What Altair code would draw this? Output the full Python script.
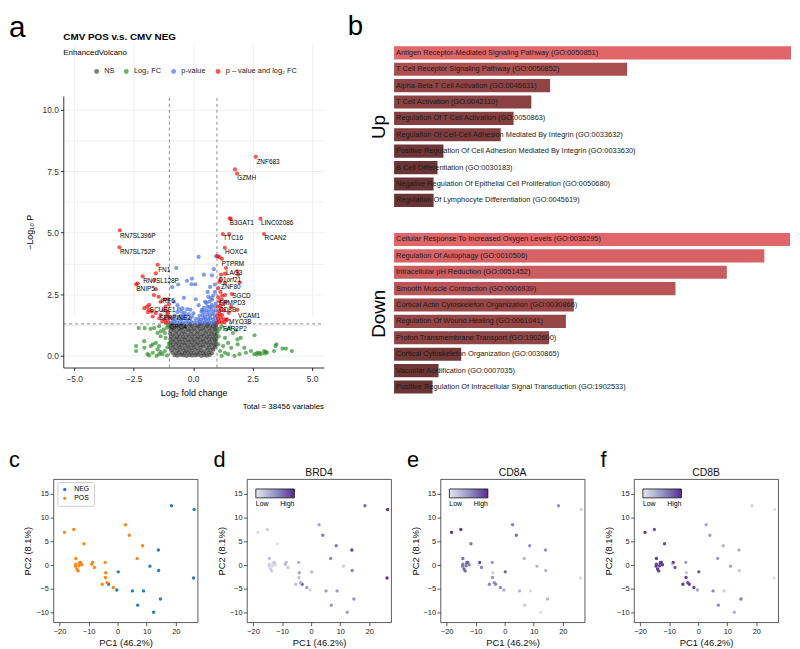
import altair as alt
import pandas as pd

FONT = "Liberation Sans"

# ---------------- panel a : volcano ----------------
ns_pts = [
    (-0.78, 0.03), (-0.66, 0.01), (-0.53, 0.04), (-0.41, 0.02), (-0.28, 0.0), (-0.16, 0.03), (-0.04, 0.01), (0.09, 0.02), (0.21, 0.04), (0.34, 0.0), (0.46, 0.03), (0.58, 0.01), (0.7, 0.04),
    (-0.87, 0.13), (-0.73, 0.11), (-0.6, 0.14), (-0.47, 0.1), (-0.35, 0.12), (-0.22, 0.15), (-0.1, 0.11), (0.03, 0.13), (0.15, 0.1), (0.28, 0.14), (0.4, 0.12), (0.53, 0.1), (0.66, 0.13), (0.79, 0.11),
    (-0.92, 0.22), (-0.79, 0.25), (-0.66, 0.21), (-0.54, 0.24), (-0.41, 0.22), (-0.29, 0.2), (-0.16, 0.24), (-0.04, 0.22), (0.09, 0.25), (0.21, 0.21), (0.34, 0.23), (0.47, 0.2), (0.6, 0.24), (0.72, 0.22), (0.85, 0.25),
    (-0.96, 0.33), (-0.83, 0.36), (-0.7, 0.32), (-0.58, 0.35), (-0.45, 0.34), (-0.33, 0.31), (-0.2, 0.35), (-0.07, 0.33), (0.05, 0.36), (0.18, 0.32), (0.31, 0.34), (0.43, 0.37), (0.56, 0.33), (0.68, 0.35), (0.81, 0.32), (0.93, 0.36),
    (-0.97, 0.46), (-0.85, 0.44), (-0.72, 0.47), (-0.6, 0.43), (-0.48, 0.46), (-0.35, 0.45), (-0.23, 0.42), (-0.1, 0.46), (0.02, 0.44), (0.15, 0.47), (0.27, 0.43), (0.4, 0.45), (0.52, 0.48), (0.65, 0.44), (0.77, 0.46), (0.9, 0.43), (0.97, 0.47),
    (-0.95, 0.55), (-0.82, 0.58), (-0.69, 0.54), (-0.57, 0.57), (-0.44, 0.56), (-0.32, 0.53), (-0.19, 0.57), (-0.06, 0.55), (0.07, 0.58), (0.19, 0.54), (0.32, 0.56), (0.44, 0.59), (0.57, 0.55), (0.69, 0.57), (0.82, 0.54), (0.94, 0.58),
    (-0.96, 0.68), (-0.84, 0.66), (-0.71, 0.69), (-0.59, 0.65), (-0.46, 0.68), (-0.34, 0.67), (-0.21, 0.64), (-0.08, 0.68), (0.04, 0.66), (0.17, 0.69), (0.29, 0.65), (0.42, 0.67), (0.54, 0.7), (0.67, 0.66), (0.79, 0.68), (0.91, 0.65), (0.98, 0.69),
    (-0.94, 0.77), (-0.81, 0.8), (-0.68, 0.76), (-0.56, 0.79), (-0.43, 0.78), (-0.31, 0.75), (-0.18, 0.79), (-0.05, 0.77), (0.08, 0.8), (0.2, 0.76), (0.33, 0.78), (0.45, 0.81), (0.58, 0.77), (0.7, 0.79), (0.83, 0.76), (0.95, 0.8),
    (-0.97, 0.9), (-0.85, 0.88), (-0.72, 0.91), (-0.6, 0.87), (-0.47, 0.9), (-0.35, 0.89), (-0.22, 0.86), (-0.09, 0.9), (0.03, 0.88), (0.16, 0.91), (0.28, 0.87), (0.41, 0.89), (0.53, 0.92), (0.66, 0.88), (0.78, 0.9), (0.9, 0.87), (0.98, 0.91),
    (-0.95, 1.0), (-0.82, 1.03), (-0.7, 0.99), (-0.57, 1.02), (-0.45, 1.01), (-0.32, 0.98), (-0.19, 1.02), (-0.07, 1.0), (0.06, 1.03), (0.19, 0.99), (0.31, 1.01), (0.44, 1.04), (0.56, 1.0), (0.69, 1.02), (0.81, 0.99), (0.94, 1.03),
    (-0.96, 1.13), (-0.84, 1.11), (-0.71, 1.14), (-0.59, 1.1), (-0.46, 1.13), (-0.34, 1.12), (-0.21, 1.09), (-0.08, 1.13), (0.04, 1.11), (0.17, 1.14), (0.29, 1.1), (0.42, 1.12), (0.54, 1.15), (0.67, 1.11), (0.79, 1.13), (0.91, 1.1), (0.98, 1.14),
    (-0.94, 1.22), (-0.81, 1.25), (-0.68, 1.21), (-0.56, 1.24), (-0.43, 1.23), (-0.31, 1.2), (-0.18, 1.24), (-0.05, 1.22), (0.08, 1.25), (0.2, 1.21), (0.33, 1.23), (0.45, 1.26), (0.58, 1.22), (0.7, 1.24), (0.83, 1.21), (0.95, 1.25),
    (-0.88, 1.29), (-0.5, 1.28), (-0.12, 1.29), (0.27, 1.28), (0.62, 1.29), (0.9, 1.28),
]
fc_pts = [
    (-2.29, 1.13), (-2.04, 1.13), (-1.79, 1.10), (-1.43, 1.20), (-1.24, 1.07), (-1.19, 0.93), (-1.37, 0.80), (-1.16, 0.73),
    (-1.57, 0.53), (-1.70, 0.47), (-1.43, 0.40), (-2.40, 0.20), (-1.92, 0.07), (-1.70, 0.13), (-1.43, 0.07), (-2.06, 0.60),
    (-2.05, 0.33), (-1.19, 0.20), (-1.10, 0.02), (-1.29, 0.07), (-1.54, 0.0), (-1.85, 0.02), (-1.64, 1.13), (-1.50, 0.93),
    (-1.36, 1.0), (-1.78, 0.40), (-1.5, 0.27), (-1.37, 0.17), (-2.4, 0.4), (-1.05, 1.25), (-1.1, 1.15), (-1.02, 0.5), (-1.08, 0.35),
    (1.2, 1.2), (1.4, 1.07), (1.67, 0.93), (2.0, 0.73), (1.07, 0.8), (1.34, 0.73), (1.47, 0.53), (1.26, 0.4), (1.6, 0.33),
    (1.87, 0.47), (2.15, 0.33), (2.43, 0.2), (2.7, 0.13), (2.98, 0.2), (3.4, 0.2), (3.46, 0.4), (3.5, 0.47), (3.76, 0.3),
    (3.9, 0.3), (4.15, 0.2), (3.1, 0.13), (2.84, 0.07), (2.57, 0.07), (2.22, 0.13), (1.95, 0.07), (1.74, 0.0), (1.47, 0.07),
    (1.2, 0.0), (1.13, 0.2), (1.34, 0.13), (1.06, 0.47), (1.86, 0.67), (2.58, 0.84), (2.68, 0.06), (2.8, 0.13), (3.06, 0.17),
    (3.0, 0.1), (1.03, 1.0), (1.12, 1.1), (1.55, 1.15), (1.8, 1.05),
]
p_pts = [
    (0.23, 4.02), (0.96, 4.05), (-0.71, 3.57), (0.87, 3.52), (0.45, 3.3), (0.79, 3.27), (-0.05, 3.14), (-0.26, 3.05),
    (0.09, 2.91), (-0.07, 2.91), (-0.88, 2.79), (-0.63, 2.9), (-0.39, 2.36), (0.11, 2.3), (0.61, 2.6), (0.71, 2.8),
    (0.91, 2.9), (-0.8, 2.2), (-0.66, 2.06), (-0.45, 1.93), (0.23, 2.06), (0.5, 2.2), (0.64, 2.4), (-0.12, 1.87),
    (0.01, 1.73), (0.37, 1.87), (0.78, 2.06), (0.85, 1.8),
    (0.18, 1.35), (0.28, 1.38), (0.38, 1.34), (0.48, 1.36), (0.58, 1.33), (0.68, 1.37), (0.78, 1.34), (0.88, 1.36), (0.96, 1.4),
    (0.22, 1.5), (0.33, 1.48), (0.43, 1.52), (0.53, 1.47), (0.63, 1.5), (0.73, 1.53), (0.83, 1.49), (0.93, 1.55),
    (0.27, 1.63), (0.4, 1.66), (0.5, 1.6), (0.6, 1.68), (0.7, 1.64), (0.8, 1.7), (0.9, 1.66),
    (0.35, 1.8), (0.47, 1.78), (0.57, 1.84), (0.67, 1.8), (0.76, 1.9), (0.95, 1.85),
    (0.45, 1.95), (0.6, 2.0), (0.7, 1.98), (0.88, 2.0), (0.55, 2.15), (0.68, 2.2), (0.8, 2.28), (0.95, 2.12),
    (0.85, 2.45), (0.75, 2.35), (0.92, 2.6),
    (-0.92, 1.35), (-0.8, 1.38), (-0.68, 1.34), (-0.56, 1.37), (-0.44, 1.33), (-0.32, 1.36), (-0.2, 1.34), (-0.08, 1.38), (0.05, 1.35),
    (-0.86, 1.5), (-0.73, 1.47), (-0.6, 1.52), (-0.48, 1.49), (-0.36, 1.53), (-0.24, 1.48), (-0.12, 1.52), (0.1, 1.5),
    (-0.78, 1.64), (-0.55, 1.62), (-0.42, 1.67), (-0.3, 1.63), (-0.18, 1.7), (-0.05, 1.6),
    (-0.66, 1.78), (-0.5, 1.8), (-0.35, 1.76), (-0.6, 1.92), (-0.25, 1.9), (-0.95, 1.55),
]
sig_pts = [
    (2.63, 8.08), (1.76, 7.57), (1.85, 7.40), (1.54, 5.58), (1.58, 5.56), (2.83, 5.57), (1.25, 4.95), (1.51, 4.95),
    (2.98, 4.95), (-3.08, 5.10), (-3.10, 4.41), (1.33, 4.39), (1.03, 4.05), (1.11, 4.01), (1.21, 3.94), (1.38, 3.57),
    (1.86, 3.43), (1.34, 3.34), (1.17, 3.30), (1.9, 3.3), (1.17, 3.1), (1.11, 3.0), (1.34, 2.96), (1.96, 2.98),
    (1.63, 2.51), (1.34, 2.47), (1.22, 2.45),
    (1.02, 1.35), (1.1, 1.4), (1.2, 1.36), (1.32, 1.38), (1.05, 1.5), (1.15, 1.55), (1.28, 1.5), (1.4, 1.47),
    (1.03, 1.65), (1.12, 1.7), (1.22, 1.66), (1.08, 1.82), (1.18, 1.9), (1.3, 1.85), (1.04, 2.0), (1.15, 2.05),
    (1.27, 2.1), (1.1, 2.22), (1.2, 2.3), (1.38, 2.2), (1.05, 2.38), (1.86, 1.87), (1.42, 1.47), (1.5, 1.75),
    (1.6, 2.0), (1.15, 2.6), (1.05, 2.75),
    (-1.49, 3.70), (-1.57, 3.35), (-2.12, 3.23), (-1.64, 3.07), (-2.40, 2.91), (-1.57, 2.71), (-1.65, 2.47),
    (-1.45, 2.40), (-1.2, 2.3), (-1.37, 2.2), (-1.94, 2.0), (-1.85, 1.87), (-1.75, 1.80), (-1.9, 1.78), (-1.57, 1.74),
    (-1.37, 1.66), (-1.16, 2.0), (-1.1, 1.8), (-1.7, 1.6), (-1.43, 1.53), (-1.19, 1.47), (-1.12, 1.6), (-1.05, 1.38),
    (-1.15, 1.35), (-1.3, 1.4), (-1.02, 1.55), (-1.08, 1.7), (-1.25, 1.85), (-1.02, 2.1), (-1.05, 2.3), (-2.05, 1.94),
    (-2.33, 2.94), (-1.85, 2.07),
]
gene_names = ["ZNF683", "GZMH", "B3GAT1", "LINC02086", "TTC16", "RCAN2", "RN7SL396P", "RN7SL752P", "HOXC4",
              "PTPRM", "LAG3", "C1orf21", "ZNF80", "SGCD", "FRMPD3", "CD8B", "VCAM1", "MYO3B", "FAR2P2",
              "FN1", "RN7SL128P", "BNIP5", "IRF6", "SCUBE1", "SERPINE1", "GPC4"]
gene_x = [2.66, 1.85, 1.54, 2.85, 1.27, 3.0, -3.08, -3.08, 1.34,
          1.2, 1.38, 1.06, 1.17, 1.64, 1.09, 1.09, 1.89, 1.51, 1.25,
          -1.47, -2.1, -2.39, -1.36, -1.82, -1.43, -1.0]
gene_y = [7.88, 7.21, 5.41, 5.38, 4.77, 4.77, 4.87, 4.21, 4.21,
          3.73, 3.35, 3.07, 2.79, 2.45, 2.15, 1.86, 1.64, 1.37, 1.09,
          3.50, 3.03, 2.71, 2.22, 1.87, 1.53, 1.19]
v_cut = [-1.0, 1.0]
h_cut = [1.30103]
CATS = ["NS", "Log₂ FC", "p-value", "p – value and log₂ FC"]
CAT_COLORS = ["#3a3a3a", "#228b22", "#4169e1", "#ee0000"]

# ---------------- panel b : enrichment bars ----------------
up_terms = [
    "Antigen Receptor-Mediated Signaling Pathway (GO:0050851)",
    "T Cell Receptor Signaling Pathway (GO:0050852)",
    "Alpha-Beta T Cell Activation (GO:0046631)",
    "T Cell Activation (GO:0042110)",
    "Regulation Of T Cell Activation (GO:0050863)",
    "Regulation Of Cell-Cell Adhesion Mediated By Integrin (GO:0033632)",
    "Positive Regulation Of Cell Adhesion Mediated By Integrin (GO:0033630)",
    "B Cell Differentiation (GO:0030183)",
    "Negative Regulation Of Epithelial Cell Proliferation (GO:0050680)",
    "Regulation Of Lymphocyte Differentiation (GO:0045619)",
]
up_vals = [402, 236, 158, 139, 121, 108, 50, 44, 40, 40]
down_terms = [
    "Cellular Response To Increased Oxygen Levels (GO:0036295)",
    "Regulation Of Autophagy (GO:0010506)",
    "Intracellular pH Reduction (GO:0051452)",
    "Smooth Muscle Contraction (GO:0006939)",
    "Cortical Actin Cytoskeleton Organization (GO:0030866)",
    "Regulation Of Wound Healing (GO:0061041)",
    "Proton Transmembrane Transport (GO:1902600)",
    "Cortical Cytoskeleton Organization (GO:0030865)",
    "Vacuolar Acidification (GO:0007035)",
    "Positive Regulation Of Intracellular Signal Transduction (GO:1902533)",
]
down_vals = [401, 375, 337, 285, 182, 174, 157, 68, 45, 39]

# ---------------- panels c-f : PCA ----------------
pc1 = [18.5, 26.3, 14.0, 11.1, 14.1, 0.2, 26.1, -3.1, -0.3, 5.1, 8.9, 14.7, 6.9, 12.4,
       -18.3, -15.1, -11.6, 2.7, 4.0, 8.6, 6.7,
       -14.4, -14.4, -13.1, -12.7, -13.3, -14.0, -13.6, -12.3, -14.5,
       -8.9, -8.6, -8.0, -4.3, -4.1, -4.2, -3.6, -5.3, -1.5]
pc2 = [12.5, 11.7, 3.2, -0.2, -1.1, -1.4, -2.7, -4.0, -5.2, -5.4, -5.4, -7.1, -8.4, -9.9,
       6.9, 7.5, 4.5, 8.5, 6.3, 4.1, 1.4,
       1.4, 0.2, 0.5, 0.6, -0.1, -0.8, -1.2, 0.1, -0.2,
       0.2, 0.6, -0.5, 0.6, -1.6, -2.6, -3.7, -4.0, -4.7]
group = ["NEG"] * 14 + ["POS"] * 25
brd4 = [0.7, 0.95, 0.9, 0.15, 0.6, 0.3, 0.95, 0.75, 0.1, 0.45, 0.45, 0.5, 0.5, 0.45,
        0.08, 0.15, 0.03, 0.4, 0.65, 0.65, 0.55,
        0.25, 0.15, 0.1, 0.2, 0.1, 0.15, 0.15, 0.1, 0.1,
        0.3, 0.3, 0.2, 0.35, 0.4, 0.25, 0.35, 0.25, 0.45]
cd8a = [0.5, 0.12, 0.5, 0.3, 0.3, 0.75, 0.08, 0.6, 0.35, 0.3, 0.08, 0.3, 0.2, 0.02,
        1.0, 0.92, 0.65, 0.6, 0.7, 0.5, 0.3,
        0.7, 0.65, 0.7, 0.75, 0.65, 0.7, 0.7, 0.6, 0.65,
        0.1, 0.85, 0.6, 0.5, 0.15, 0.5, 0.55, 0.6, 0.55]
cd8b = [0.12, 0.04, 0.35, 0.4, 0.2, 0.8, 0.04, 0.9, 0.4, 0.55, 0.15, 0.65, 0.55, 0.35,
        0.95, 0.8, 0.85, 0.4, 0.45, 0.3, 0.45,
        0.9, 0.9, 0.9, 0.9, 0.9, 0.9, 0.9, 0.9, 0.9,
        0.15, 0.9, 0.8, 0.45, 0.2, 0.9, 0.85, 0.9, 0.85]


def text_layer(txt, x, y, size, align="left", baseline="top", weight="normal", color="black"):
    return alt.Chart(pd.DataFrame({"t": [txt]})).mark_text(
        align=align, baseline=baseline, fontSize=size, font=FONT, fontWeight=weight, color=color
    ).encode(x=alt.value(x), y=alt.value(y), text="t:N")


# ---------- volcano ----------
rows = []
for cat, pts in zip(CATS, [ns_pts, fc_pts, p_pts, sig_pts]):
    for x, y in pts:
        rows.append({"lfc": x, "nlp": y, "cat": cat})
vdf = pd.DataFrame(rows)

XT = "Log₂ fold change"
YT = "−Log₁₀ P"
xsc = alt.Scale(domain=[-5.46, 5.5], range=[10, 274], nice=False, zero=False)
ysc = alt.Scale(domain=[-0.47, 10.55], range=[327, 52], nice=False, zero=False)
major = "abs(datum.value) % 2.5 == 0"
xaxis = alt.Axis(values=[-5, -3.75, -2.5, -1.25, 0, 1.25, 2.5, 3.75, 5],
                 labelExpr=f"{major} ? format(datum.value, '.1f') : ''",
                 grid=True, gridColor="#ebebeb", gridWidth=0.8,
                 domainColor="black", domainWidth=0.8, tickColor="black", tickSize=3, tickWidth=0.8,
                 tickOpacity={"condition": {"test": major, "value": 1}, "value": 0},
                 labelFontSize=8.5, labelColor="#333", labelFont=FONT, labelPadding=4,
                 titleFontSize=9, titleFont=FONT, titleFontWeight="normal", titleColor="black", titlePadding=6,
                 labelOverlap=False)
yaxis = alt.Axis(values=[0, 1.25, 2.5, 3.75, 5, 6.25, 7.5, 8.75, 10],
                 labelExpr=f"{major} ? format(datum.value, '.1f') : ''",
                 grid=True, gridColor="#ebebeb", gridWidth=0.8, offset=-10,
                 domainColor="black", domainWidth=0.8, tickColor="black", tickSize=3, tickWidth=0.8,
                 tickOpacity={"condition": {"test": major, "value": 1}, "value": 0},
                 labelFontSize=8.5, labelColor="#333", labelFont=FONT, labelPadding=2,
                 titleFontSize=9, titleFont=FONT, titleFontWeight="normal", titleColor="black", titlePadding=8,
                 labelOverlap=False)

v_points = alt.Chart(vdf).mark_circle(size=18, opacity=0.65).encode(
    x=alt.X("lfc:Q", scale=xsc, axis=xaxis, title=XT),
    y=alt.Y("nlp:Q", scale=ysc, axis=yaxis, title=YT),
    color=alt.Color("cat:N", scale=alt.Scale(domain=CATS, range=CAT_COLORS),
                    legend=alt.Legend(orient="none", legendX=40, legendY=23, direction="horizontal",
                                      columns=4, columnPadding=8, title=None, labelFontSize=7.5,
                                      labelFont=FONT, labelColor="#222", symbolSize=25, symbolType="circle",
                                      labelOffset=4, padding=0, symbolStrokeWidth=0)),
)
v_vrule = alt.Chart(pd.DataFrame({"v": v_cut})).mark_rule(
    strokeDash=[3, 3], color="#555", strokeWidth=0.7
).encode(x=alt.X("v:Q", scale=xsc, title=XT), y=alt.datum(-0.47), y2=alt.datum(10.55))
v_hrule = alt.Chart(pd.DataFrame({"h": h_cut})).mark_rule(
    strokeDash=[3, 3], color="#555", strokeWidth=0.7
).encode(y=alt.Y("h:Q", scale=ysc, title=YT), x=alt.datum(-5.46), x2=alt.datum(5.5))
v_labels = alt.Chart(pd.DataFrame({"g": gene_names, "gx": gene_x, "gy": gene_y})).mark_text(
    align="left", baseline="middle", fontSize=6.5, font=FONT, color="black"
).encode(x=alt.X("gx:Q", scale=xsc, title=XT), y=alt.Y("gy:Q", scale=ysc, title=YT), text="g:N")

volcano = alt.layer(
    v_points, v_vrule, v_hrule, v_labels,
    text_layer("a", -45, -31.5, 30),
    text_layer("CMV POS v.s. CMV NEG", 10, -5, 10, baseline="alphabetic", weight="bold"),
    text_layer("EnhancedVolcano", 10, 10, 8, baseline="alphabetic"),
    text_layer("Total = 38456 variables", 274, 369, 8, align="right", baseline="alphabetic"),
).properties(width=274, height=327, view=alt.ViewBackground(stroke="transparent"))


# ---------- bars ----------
def bar_panel(terms, vals, label, letter=None):
    df = pd.DataFrame({"term": terms, "val": vals})
    ysc_b = alt.Scale(paddingInner=0.2, paddingOuter=0.1)
    xsc_b = alt.Scale(domain=[0, 402], nice=False, zero=True)
    bars = alt.Chart(df).mark_bar().encode(
        y=alt.Y("term:N", sort=None, scale=ysc_b, title=label,
                axis=alt.Axis(labels=False, ticks=False, domain=False, grid=False, titleFontSize=19,
                              titleFont=FONT, titleFontWeight="normal", titleColor="black", titlePadding=6)),
        x=alt.X("val:Q", scale=xsc_b, axis=None),
        color=alt.Color("val:Q", scale=alt.Scale(domain=[39, 402], range=["#6b3434", "#e0666a"]), legend=None),
    )
    txt = alt.Chart(df).mark_text(align="left", baseline="middle", dx=2, fontSize=7.5, font=FONT,
                                  color="#1a1a1a").encode(
        y=alt.Y("term:N", sort=None, scale=ysc_b, title=label),
        x=alt.datum(0),
        text="term:N",
    )
    layers = [bars, txt]
    if letter:
        layers.append(text_layer(letter, -47, -31.8, 28))
    return alt.layer(*layers).properties(width=402, height=166,
                                         view=alt.ViewBackground(stroke="transparent"))


bar_col = alt.vconcat(bar_panel(up_terms, up_vals, "Up", "b"),
                      bar_panel(down_terms, down_vals, "Down"),
                      spacing=21).resolve_scale(color="independent", x="independent", y="independent")

# ---------- PCA ----------
pdf = pd.DataFrame({"pc1": pc1, "pc2": pc2, "group": group, "BRD4": brd4, "CD8A": cd8a, "CD8B": cd8b})


def pca_panel(letter, letter_x, color, title=None):
    xax = alt.Axis(values=[-20, -10, 0, 10, 20], grid=False, domain=False, tickSize=3.5, tickColor="#333",
                   tickWidth=0.8, labelFontSize=7.5, labelColor="#222", labelFont=FONT, labelPadding=1.5,
                   titleFontSize=9.5, titleFont=FONT, titleFontWeight="normal", titleColor="#111", titlePadding=3)
    yax = alt.Axis(values=[-10, -5, 0, 5, 10, 15], grid=False, domain=False, tickSize=3.5, tickColor="#333",
                   tickWidth=0.8, labelFontSize=7.5, labelColor="#222", labelFont=FONT, labelPadding=1.5,
                   titleFontSize=9.5, titleFont=FONT, titleFontWeight="normal", titleColor="#111", titlePadding=3)
    pts = alt.Chart(pdf).mark_circle(size=12, opacity=0.95).encode(
        x=alt.X("pc1:Q", scale=alt.Scale(domain=[-22.1, 27.5], nice=False, zero=False), axis=xax,
                title="PC1 (46.2%)"),
        y=alt.Y("pc2:Q", scale=alt.Scale(domain=[-12.0, 18.1], nice=False, zero=False), axis=yax,
                title="PC2 (8.1%)"),
        color=color,
    )
    layers = [pts, text_layer(letter, letter_x, -29, 22)]
    if title:
        layers.append(text_layer(title, 73, -3, 10.5, align="center", baseline="alphabetic", color="#111"))
    return alt.layer(*layers).properties(width=146, height=145,
                                         view=alt.ViewBackground(stroke="#333", strokeWidth=0.8))


grp_color = alt.Color("group:N", scale=alt.Scale(domain=["NEG", "POS"], range=["#1f77b4", "#ff7f0e"]),
                      legend=alt.Legend(orient="none", legendX=4, legendY=3, title=None, fillColor="white",
                                        strokeColor="#cccccc", padding=4, cornerRadius=2, labelFontSize=7,
                                        labelFont=FONT, symbolSize=12, symbolType="circle", rowPadding=1,
                                        labelOffset=6, symbolStrokeWidth=0))


def gene_color(field):
    return alt.Color(f"{field}:Q", scale=alt.Scale(scheme="purples", domain=[0, 1]),
                     legend=alt.Legend(orient="none", legendX=9, legendY=10, direction="horizontal", title=None,
                                       gradientLength=39, gradientThickness=9, gradientStrokeColor="black",
                                       gradientStrokeWidth=0.8, values=[0, 1],
                                       labelExpr="datum.value == 0 ? 'Low' : 'High'", labelFontSize=7,
                                       labelFont=FONT, labelOffset=2))


bottom = alt.hconcat(
    pca_panel("c", -45, grp_color),
    pca_panel("d", -34, gene_color("BRD4"), "BRD4"),
    pca_panel("e", -34, gene_color("CD8A"), "CD8A"),
    pca_panel("f", -34, gene_color("CD8B"), "CD8B"),
    spacing=14,
).resolve_scale(color="independent", x="independent", y="independent")

top = alt.hconcat(volcano, bar_col, spacing=22).resolve_scale(
    color="independent", x="independent", y="independent")

chart = alt.vconcat(top, bottom, spacing=37).resolve_scale(
    color="independent", x="independent", y="independent"
).properties(padding=0).configure(font=FONT, background="white")

chart.save("out.html", embed_options={"renderer": "svg", "actions": False})
